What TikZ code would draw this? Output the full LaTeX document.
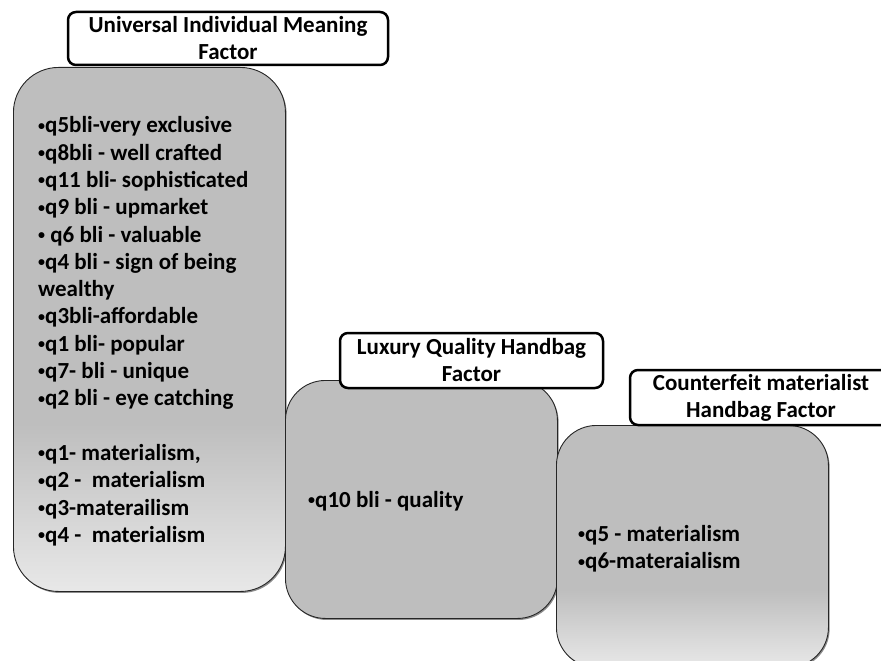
\documentclass[tikz,border=0pt]{standalone}
\usepackage{fontspec}
\setmainfont{Carlito}
\usetikzlibrary{shadows}
\definecolor{panelgray}{RGB}{190,190,190}
\definecolor{panellight}{RGB}{232,232,232}
% grey panel fill that lightens towards the bottom edge
\pgfdeclareverticalshading{panelfade}{100bp}{color(0bp)=(panellight); color(25bp)=(panellight); color(41bp)=(panelgray); color(100bp)=(panelgray)}
% small list bullet
\newcommand\listdot{\raisebox{2.6pt}{\fontsize{14}{14}\selectfont •}}
\begin{document}
\begin{tikzpicture}[x=1pt,y=-1pt,
  panel/.style={draw=black!85, line width=0.9pt, anchor=north west, inner sep=0pt,
    drop shadow={shadow xshift=1.2pt, shadow yshift=-1.5pt, opacity=0.45, fill=black}},
  fadepanel/.style={panel, shading=panelfade},
  flatpanel/.style={panel, fill=panelgray},
  factorlabel/.style={draw=black, line width=2.5pt, fill=white, rounded corners=8pt,
    align=center, inner sep=0pt, font=\bfseries\fontsize{23}{27}\selectfont},
  itemlist/.style={anchor=north west, inner sep=0pt, align=left,
    font=\bfseries\fontsize{23}{27.3}\selectfont}]
\useasboundingbox (0,0) rectangle (881,661);
\clip (0,0) rectangle (881,661);

% Universal Individual Meaning Factor
\node[fadepanel, rounded corners=45pt, minimum width=272pt, minimum height=524pt] (uim) at (13,67) {};
\node[factorlabel, minimum width=320pt, minimum height=53pt] (uimlabel) at (228,38.5)
  {Universal Individual Meaning\\Factor};

% Luxury Quality Handbag Factor
\node[flatpanel, rounded corners=40pt, minimum width=272pt, minimum height=238pt] (lqh) at (285,380) {};
\node[factorlabel, minimum width=263pt, minimum height=55pt] (lqhlabel) at (471.5,360.5)
  {Luxury Quality Handbag\\Factor};

% Counterfeit materialist Handbag Factor
\node[fadepanel, rounded corners=40pt, minimum width=272pt, minimum height=242pt] (cmh) at (556,425) {};
\node[factorlabel, minimum width=262pt, minimum height=55pt] (cmhlabel) at (761,397.5)
  {Counterfeit materialist\\Handbag Factor};

% item lists
\node[itemlist] (uimlist) at (38,116.5) {%
  \listdot q5bli-very exclusive\\
  \listdot q8bli - well crafted\\
  \listdot q11 bli- sophisticated\\
  \listdot q9 bli - upmarket\\
  \listdot\ q6 bli - valuable\\
  \listdot q4 bli - sign of being\\
  wealthy\\
  \listdot q3bli-affordable\\
  \listdot q1 bli- popular\\
  \listdot q7- bli - unique\\
  \listdot q2 bli - eye catching\\[27.3pt]
  \listdot q1- materialism,\\
  \listdot q2 -\ \ materialism\\
  \listdot q3-materailism\\
  \listdot q4 -\ \ materialism};
\node[itemlist] (lqhlist) at (308,491) {\listdot q10 bli - quality};
\node[itemlist] (cmhlist) at (578,525) {\listdot q5 - materialism\\\listdot q6-materaialism};
\end{tikzpicture}
\end{document}
